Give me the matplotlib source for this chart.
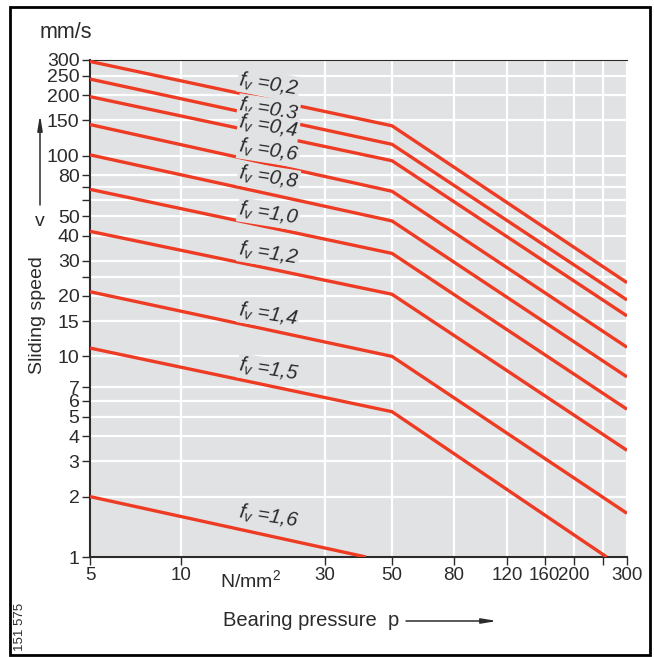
import matplotlib

matplotlib.use("Agg")

import matplotlib.pyplot as plt
from matplotlib.patches import Rectangle
from matplotlib.ticker import FixedLocator, FixedFormatter, NullLocator

plt.rcParams["font.family"] = ["Liberation Sans", "DejaVu Sans"]
plt.rcParams["mathtext.fontset"] = "custom"
plt.rcParams["mathtext.it"] = "Liberation Sans:italic"
plt.rcParams["mathtext.rm"] = "Liberation Sans"

# curves: bearing pressure p (N/mm²) vs sliding speed v (mm/s), one per factor f_v
FV_LABELS = ["0,2", "0,3", "0,4", "0,6", "0,8", "1,0", "1,2", "1,4", "1,5", "1,6"]
P_POINTS = [
    [5, 50, 300],
    [5, 50, 300],
    [5, 50, 300],
    [5, 50, 300],
    [5, 50, 300],
    [5, 50, 300],
    [5, 50, 300],
    [5, 50, 300],
    [5, 50, 257],
    [5, 41],
]
V_POINTS = [
    [295, 141, 23.3],
    [241, 114, 19.1],
    [197, 94.4, 15.9],
    [143, 66.5, 11.1],
    [101, 47.3, 7.9],
    [68, 32.6, 5.45],
    [42, 20.4, 3.4],
    [21, 10, 1.65],
    [11, 5.3, 1.0],
    [2.0, 1.0],
]

X_TICKS = [5, 10, 30, 50, 80, 120, 160, 200, 250, 300]
X_TICK_LABELS = ["5", "10", "30", "50", "80", "120", "160", "200", "", "300"]
Y_TICKS = [1, 2, 3, 4, 5, 6, 7, 10, 15, 20, 25, 30, 40, 50, 60, 70, 80, 100, 150, 200, 250, 300]
Y_TICK_LABELS = ["1", "2", "3", "4", "5", "6", "7", "10", "15", "20", "", "30", "40", "50",
                 "", "", "80", "100", "150", "200", "250", "300"]

# label anchor positions (data coords)
LABEL_P = [19.5] * 10
LABEL_V = [227, 169, 139, 105.6, 77.4, 51.2, 32.4, 16.1, 8.55, 1.58]

RED = "#ee3b24"
BG = "#e1e2e4"
INK = "#2b2b2b"

W, H = 654, 657
fig = plt.figure(figsize=(W / 100, H / 100), dpi=100)
ax = fig.add_axes([90 / W, 1 - 557 / H, (627 - 90) / W, (557 - 60) / H])
ax.set_facecolor(BG)
ax.set_xscale("log")
ax.set_yscale("log")
ax.set_xlim(5, 300)
ax.set_ylim(1, 300)

ax.xaxis.set_major_locator(FixedLocator(X_TICKS))
ax.xaxis.set_major_formatter(FixedFormatter(X_TICK_LABELS))
ax.xaxis.set_minor_locator(NullLocator())
ax.yaxis.set_major_locator(FixedLocator(Y_TICKS))
ax.yaxis.set_major_formatter(FixedFormatter(Y_TICK_LABELS))
ax.yaxis.set_minor_locator(NullLocator())
ax.tick_params(axis="both", direction="out", length=6, width=1, color=INK,
               labelcolor=INK, pad=1.5)
ax.tick_params(axis="y", labelsize=14)
ax.tick_params(axis="x", labelsize=13.5)
ax.grid(True, color="white", linewidth=1.6)
ax.set_axisbelow(True)

for side in ("left", "bottom"):
    ax.spines[side].set_color(INK)
    ax.spines[side].set_linewidth(1.5)
ax.spines["top"].set_color(INK)
ax.spines["top"].set_linewidth(0.8)
ax.spines["right"].set_visible(False)

for p, v in zip(P_POINTS, V_POINTS):
    ax.plot(p, v, color=RED, linewidth=2.4, solid_capstyle="butt", zorder=3)

for lab, lp, lv in zip(FV_LABELS, LABEL_P, LABEL_V):
    ax.text(lp, lv, r"$f_v$ =" + lab, fontsize=14.5, fontstyle="italic", color=INK,
            ha="center", va="center", rotation=-9, rotation_mode="anchor", zorder=4,
            bbox=dict(boxstyle="square,pad=0.05", facecolor=BG, edgecolor="none"))

# unit labels and axis titles
fig.text(66 / W, 1 - 33 / H, "mm/s", fontsize=15.5, color=INK, ha="center", va="center")
ax.text(17, -0.025, r"N/mm$^2$", transform=ax.get_xaxis_transform(), fontsize=14,
        color=INK, ha="center", va="top")
fig.text(37 / W, 1 - 315 / H, "Sliding speed", fontsize=14, color=INK, rotation=90,
         ha="center", va="center")
fig.text(40 / W, 1 - 221 / H, "v", fontsize=14, color=INK, ha="center", va="center")
fig.text(311 / W, 1 - 621 / H, "Bearing pressure  p", fontsize=14.5, color=INK,
         ha="center", va="center")
fig.text(20 / W, 1 - 627 / H, "151 575", fontsize=9.5, color=INK, rotation=90,
         ha="center", va="center")

arrow = dict(arrowstyle="-|>,head_length=0.9,head_width=0.15", color=INK, lw=1.1,
             shrinkA=0, shrinkB=0)
ax.annotate("", xy=(40, H - 115), xytext=(40, H - 205), xycoords="figure pixels",
            textcoords="figure pixels", arrowprops=arrow, annotation_clip=False)
ax.annotate("", xy=(497, H - 621), xytext=(406, H - 621), xycoords="figure pixels",
            textcoords="figure pixels", arrowprops=arrow, annotation_clip=False)

fig.add_artist(Rectangle((10 / W, 2 / H), 640 / W, 648 / H, transform=fig.transFigure,
                         fill=False, edgecolor="black", linewidth=2))

fig.savefig("out.png", dpi=100)
